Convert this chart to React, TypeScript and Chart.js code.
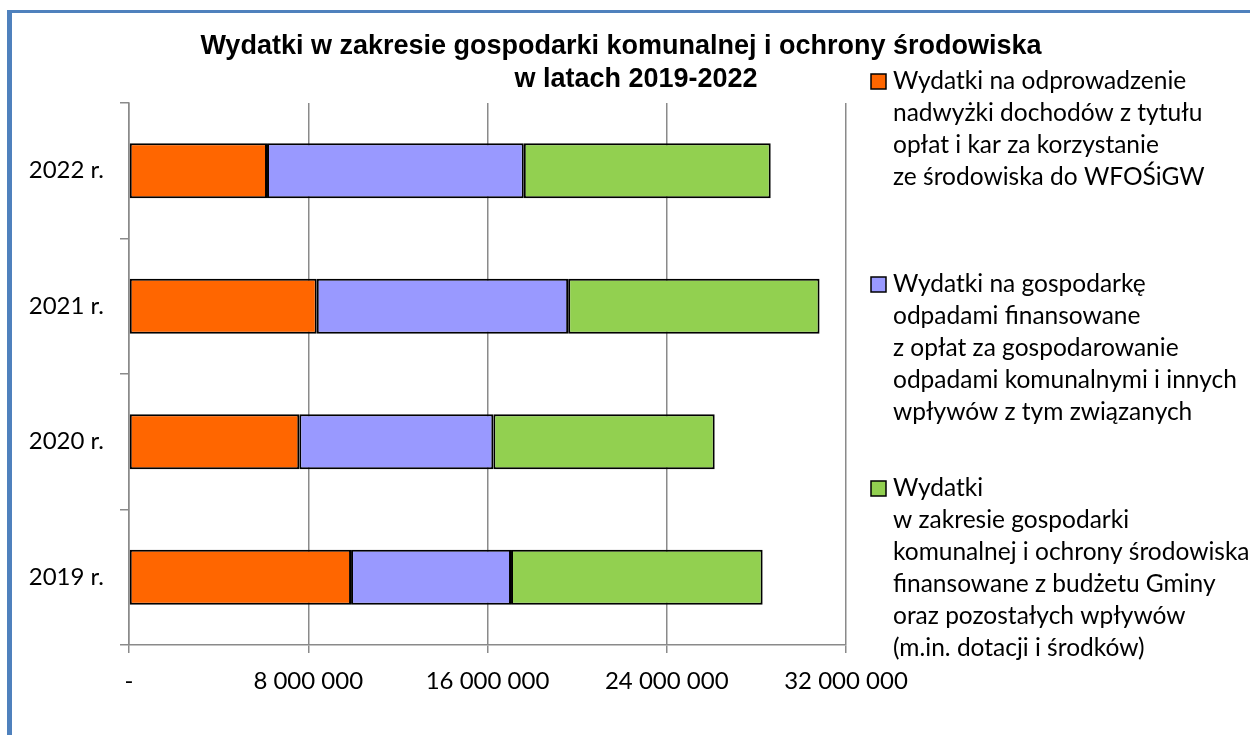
import React, { useEffect, useRef } from "react";
import { Chart, registerables } from "chart.js";

Chart.register(...registerables);

const categories = ["2019 r.", "2020 r.", "2021 r.", "2022 r."];
const surplusTransfer = [9910000, 7600000, 8380000, 6160000];
const wasteManagement = [7140000, 8660000, 11220000, 11460000];
const budgetFunded = [11230000, 9880000, 11220000, 11020000];
const xTickLabels = ["-", "8 000 000", "16 000 000", "24 000 000", "32 000 000"];
const titleLines = [
  "Wydatki w zakresie gospodarki komunalnej i ochrony środowiska",
  "w latach 2019-2022",
];
const legendSurplus = [
  "Wydatki na odprowadzenie",
  "nadwyżki dochodów z tytułu",
  "opłat i kar za korzystanie",
  "ze środowiska do WFOŚiGW",
];
const legendWaste = [
  "Wydatki na gospodarkę",
  "odpadami finansowane",
  "z opłat za gospodarowanie",
  "odpadami komunalnymi i innych",
  "wpływów z tym związanych",
];
const legendBudget = [
  "Wydatki",
  "w zakresie gospodarki",
  "komunalnej i ochrony środowiska",
  "finansowane z budżetu Gminy",
  "oraz pozostałych wpływów",
  "(m.in. dotacji i środków)",
];

const GRID = "#8A8A8A";
const FONT = "Lato, 'Open Sans', sans-serif";

const titlePlugin = {
  id: "customTitle",
  afterDraw(chart: any) {
    const ctx = chart.ctx;
    ctx.save();
    ctx.fillStyle = "#000";
    ctx.font = "bold 27px 'Liberation Sans', Arial, sans-serif";
    ctx.textAlign = "center";
    ctx.textBaseline = "middle";
    ctx.fillText(titleLines[0], 621, 47);
    ctx.fillText(titleLines[1], 636, 80);
    ctx.restore();
  },
};

const legendPlugin = {
  id: "customLegend",
  afterDraw(chart: any) {
    const ctx = chart.ctx;
    const starts = [81, 284, 488];
    const lh = 32;
    ctx.save();
    ctx.font = "24.5px " + FONT;
    ctx.textBaseline = "middle";
    ctx.textAlign = "left";
    chart.data.datasets.forEach((ds: any, i: number) => {
      const y0 = starts[i];
      ctx.fillStyle = ds.backgroundColor;
      ctx.fillRect(871, y0 - 7, 15, 15);
      ctx.strokeStyle = "#000";
      ctx.lineWidth = 1.5;
      ctx.strokeRect(871, y0 - 7, 15, 15);
      ctx.fillStyle = "#000";
      (ds.legendLines as string[]).forEach((line, j) => {
        ctx.fillText(line, 893, y0 + j * lh);
      });
    });
    ctx.restore();
  },
};

export default function App() {
  const ref = useRef<HTMLCanvasElement | null>(null);
  useEffect(() => {
    if (!ref.current) return;
    const mk = (label: string, data: number[], color: string, lines: string[]) => ({
      label,
      data,
      backgroundColor: color,
      borderColor: "#000",
      borderWidth: 2,
      borderSkipped: false,
      categoryPercentage: 1,
      barPercentage: 0.405,
      legendLines: lines,
    });
    const chart = new Chart(ref.current, {
      type: "bar",
      data: {
        labels: categories,
        datasets: [
          mk(legendSurplus.join(" "), surplusTransfer, "#FF6600", legendSurplus),
          mk(legendWaste.join(" "), wasteManagement, "#9999FF", legendWaste),
          mk(legendBudget.join(" "), budgetFunded, "#92D050", legendBudget),
        ] as any,
      },
      options: {
        indexAxis: "y",
        responsive: false,
        animation: false,
        layout: { padding: { top: 103, right: 404, left: 0, bottom: 0 } },
        plugins: {
          legend: { display: false },
          title: { display: false },
          tooltip: { enabled: false },
        },
        scales: {
          x: {
            stacked: true,
            min: 0,
            max: 32000000,
            ticks: {
              stepSize: 8000000,
              color: "#000",
              font: { family: FONT, size: 24 },
              padding: 14,
              maxRotation: 0,
              callback: (_v: any, i: number) => xTickLabels[i],
            },
            grid: { color: GRID, lineWidth: 1.5, tickLength: 8, drawOnChartArea: true },
            border: { color: GRID, width: 1.5 },
            afterFit: (s: any) => {
              s.height = 90;
            },
          },
          y: {
            stacked: true,
            reverse: true,
            ticks: {
              color: "#000",
              font: { family: FONT, size: 24 },
              padding: 16,
            },
            grid: { color: GRID, lineWidth: 1.5, tickLength: 9, offset: true, drawOnChartArea: false },
            border: { color: GRID, width: 1.5 },
            afterFit: (s: any) => {
              s.width = 129;
            },
          },
        },
      } as any,
      plugins: [titlePlugin, legendPlugin],
    });
    return () => chart.destroy();
  }, []);

  return (
    <div style={{ position: "fixed", left: 0, top: 0, width: 1250, height: 735, overflow: "hidden", background: "#fff" }}>
      <div
        style={{
          position: "absolute",
          left: 7,
          top: 10,
          width: 1400,
          height: 900,
          borderLeft: "5px solid #4F81BD",
          borderTop: "3px solid #4F81BD",
        }}
      />
      <canvas ref={ref} width={1250} height={735} style={{ position: "absolute", left: 0, top: 0, width: 1250, height: 735 }} />
    </div>
  );
}
